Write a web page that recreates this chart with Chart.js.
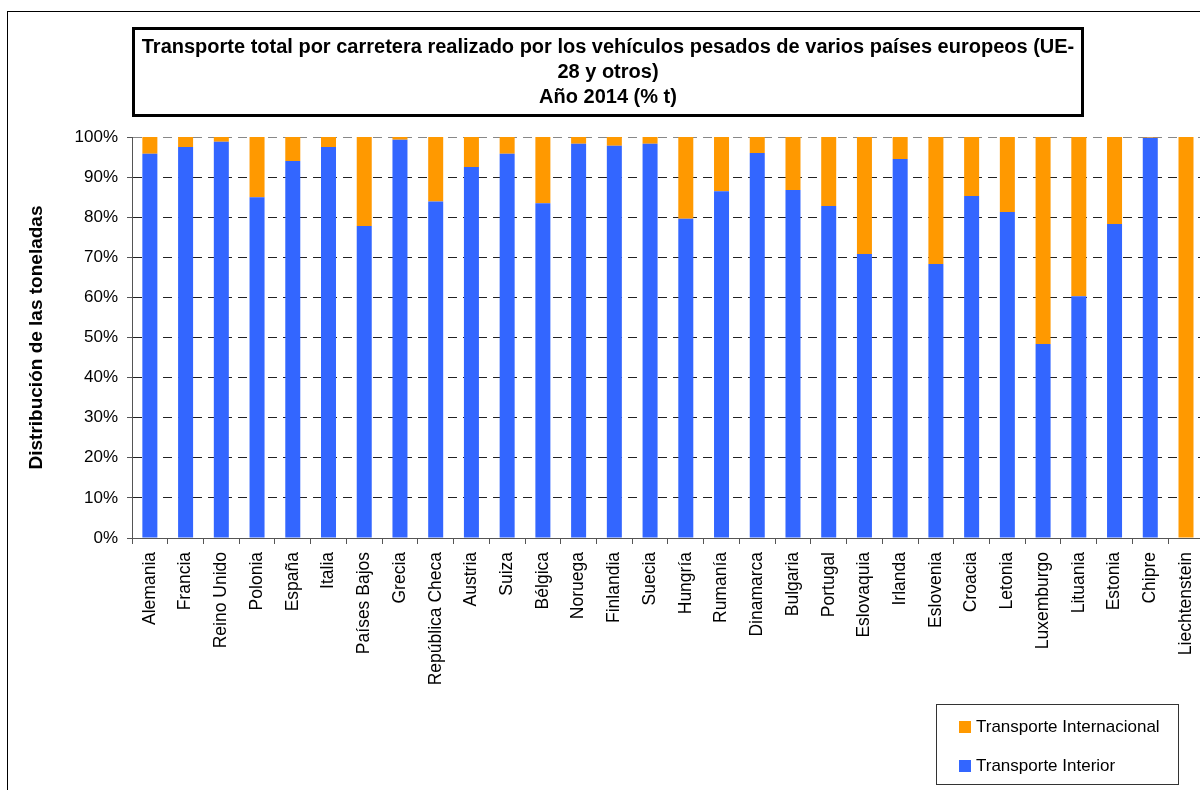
<!DOCTYPE html>
<html>
<head>
<meta charset="utf-8">
<script src="https://cdn.jsdelivr.net/npm/chart.js@4.4.1/dist/chart.umd.min.js"></script>
<style>
  html, body { margin: 0; padding: 0; overflow: hidden; background: #fff; }
  #wrap { position: relative; width: 1200px; height: 790px; overflow: hidden; font-family: "Liberation Sans", Arial, sans-serif; }
  #frame { position: absolute; left: 7px; top: 11px; width: 1300px; height: 900px; border: 1.5px solid #000; }
  #chart { position: absolute; left: 0; top: 0; }
  #title { position: absolute; left: 132px; top: 27px; width: 952px; height: 90px; box-sizing: border-box;
           border: 3px solid #000; text-align: center; font-weight: bold; font-size: 20px; line-height: 25px; padding-top: 4px; }
  #legend { position: absolute; left: 936px; top: 704px; width: 243px; height: 81px; box-sizing: border-box;
            border: 1px solid #333; font-size: 17px; }
  .item { position: absolute; left: 22px; height: 20px; line-height: 20px; white-space: nowrap; }
  .item span { display: inline-block; width: 12px; height: 12px; margin-right: 5px; vertical-align: -1px; }
</style>
</head>
<body>
<div id="wrap">
  <div id="frame"></div>
  <canvas id="chart" width="1215" height="790"></canvas>
  <div id="title"></div>
  <div id="legend"></div>
</div>
<script>
// ======================
// DATA
// ======================
const titleLines = [
  "Transporte total por carretera realizado por los vehículos pesados de varios países europeos (UE-",
  "28 y otros)",
  "Año 2014 (% t)"
];
const yTitle = "Distribución de las toneladas";

const countries = [
  "Alemania", "Francia", "Reino Unido", "Polonia", "España", "Italia",
  "Países Bajos", "Grecia", "República Checa", "Austria", "Suiza", "Bélgica",
  "Noruega", "Finlandia", "Suecia", "Hungría", "Rumanía", "Dinamarca",
  "Bulgaria", "Portugal", "Eslovaquia", "Irlanda", "Eslovenia", "Croacia",
  "Letonia", "Luxemburgo", "Lituania", "Estonia", "Chipre", "Liechtenstein"
];

// % de toneladas - transporte interior
const interior = [
  95.8, 97.5, 98.8, 85.0, 94.0, 97.5,
  77.8, 99.3, 83.9, 92.5, 95.8, 83.5,
  98.3, 97.8, 98.3, 79.6, 86.5, 96.0,
  86.8, 82.8, 70.8, 94.5, 68.3, 85.3,
  81.3, 48.4, 60.3, 78.3, 99.8, 0
];

// % de toneladas - transporte internacional
const internacional = [
  4.2, 2.5, 1.2, 15.0, 6.0, 2.5,
  22.2, 0.7, 16.1, 7.5, 4.2, 16.5,
  1.7, 2.2, 1.7, 20.4, 13.5, 4.0,
  13.2, 17.2, 29.2, 5.5, 31.7, 14.7,
  18.7, 51.6, 39.7, 21.7, 0.2, 100
];

const yTicks = [0, 10, 20, 30, 40, 50, 60, 70, 80, 90, 100];

const BLUE = "#3366FF";
const ORANGE = "#FF9900";
const FONT = "'Liberation Sans', Arial, sans-serif";

// ======================
// TITLE
// ======================
document.getElementById("title").innerHTML = titleLines.join("<br>");

// ======================
// CHART
// ======================
const chart = new Chart(document.getElementById("chart"), {
  type: "bar",
  data: {
    labels: countries,
    datasets: [
      { label: "Transporte Interior", data: interior, backgroundColor: BLUE, barPercentage: 0.42, categoryPercentage: 1 },
      { label: "Transporte Internacional", data: internacional, backgroundColor: ORANGE, barPercentage: 0.42, categoryPercentage: 1 }
    ]
  },
  options: {
    responsive: false,
    animation: false,
    layout: { padding: { left: 0, top: 137, right: 0, bottom: 0 } },
    plugins: { legend: { display: false }, title: { display: false }, tooltip: { enabled: false } },
    scales: {
      x: {
        stacked: true,
        afterFit: s => { s.height = 252; },
        grid: { drawOnChartArea: false, drawTicks: true, tickLength: 6, tickColor: "#555", offset: true },
        border: { display: true, color: "#555", width: 1 },
        ticks: {
          autoSkip: false, minRotation: 90, maxRotation: 90, padding: 8,
          color: "#000", font: { family: FONT, size: 17.5 }
        }
      },
      y: {
        stacked: true,
        min: 0, max: 100,
        afterFit: s => { s.width = 132; },
        afterBuildTicks: s => { s.ticks = yTicks.map(v => ({ value: v })); },
        grid: {
          color: c => c.tick.value === 0 ? "rgba(0,0,0,0)" : (c.tick.value === 100 ? "#888" : "#222"),
          lineWidth: 1, tickLength: 5, tickColor: "#555", tickBorderDash: []
        },
        border: { display: true, color: "#555", width: 1, dash: [9, 6] },
        ticks: {
          padding: 9, color: "#000", font: { family: FONT, size: 17 },
          callback: v => v + "%"
        },
        title: {
          display: true, text: yTitle, color: "#000",
          font: { family: FONT, size: 19, weight: "bold" },
          padding: { top: 25, bottom: 0 }
        }
      }
    }
  }
});

// ======================
// LEGEND (HTML)
// ======================
const legend = document.getElementById("legend");
chart.data.datasets.slice().reverse().forEach((ds, i) => {
  const row = document.createElement("div");
  row.className = "item";
  row.style.top = (12 + i * 39) + "px";
  row.innerHTML = `<span style="background:${ds.backgroundColor}"></span>${ds.label}`;
  legend.appendChild(row);
});
</script>
</body>
</html>
